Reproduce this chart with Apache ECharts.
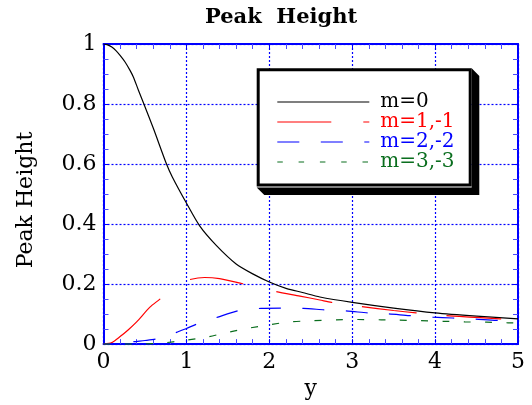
<!DOCTYPE html>
<html>
<head>
<meta charset="utf-8">
<script src="https://cdn.jsdelivr.net/npm/echarts@6/dist/echarts.min.js"></script>
<style>html,body{margin:0;padding:0;background:#fff}#c{width:532px;height:405px}</style>
</head>
<body>
<div id="c"></div>
<script>
// ---- data ----
const titleText = 'Peak  Height';
const xAxisName = 'y';
const yAxisName = 'Peak Height';
const seriesNames = ['m=0', 'm=1,-1', 'm=2,-2', 'm=3,-3'];

const m0X = [0, 0.05, 0.1, 0.15, 0.2, 0.26, 0.32, 0.36, 0.42, 0.48, 0.6, 0.76, 0.83, 1.0, 1.16, 1.36, 1.6, 1.8, 2.0, 2.21, 2.4, 2.61, 3.0, 3.5, 4.0, 4.5, 5.0];
const m0Y = [1, 0.997, 0.99, 0.978, 0.962, 0.94, 0.912, 0.89, 0.847, 0.805, 0.72, 0.60, 0.557, 0.47, 0.394, 0.329, 0.267, 0.234, 0.207, 0.185, 0.172, 0.157, 0.139, 0.12, 0.104, 0.093, 0.084];

const m1X = [0, 0.1, 0.2, 0.3, 0.4, 0.56, 0.68, 0.8, 0.9, 1.04, 1.22, 1.4, 1.68, 1.9, 2.08, 2.37, 2.61, 2.75, 3.11, 3.5, 3.77, 4.13, 4.5, 4.78, 5.0];
const m1Y = [0, 0.005, 0.025, 0.048, 0.074, 0.123, 0.15, 0.18, 0.2, 0.215, 0.222, 0.218, 0.201, 0.188, 0.175, 0.16, 0.147, 0.139, 0.125, 0.112, 0.104, 0.095, 0.089, 0.084, 0.081];

const m2X = [0, 0.2, 0.36, 0.5, 0.64, 0.76, 0.88, 1.0, 1.12, 1.38, 1.64, 1.9, 2.15, 2.41, 2.67, 2.95, 3.19, 3.43, 3.69, 3.97, 4.21, 4.46, 4.74, 5.0];
const m2Y = [0, 0.002, 0.008, 0.012, 0.017, 0.026, 0.039, 0.052, 0.066, 0.09, 0.112, 0.119, 0.12, 0.119, 0.114, 0.11, 0.104, 0.101, 0.095, 0.09, 0.087, 0.084, 0.079, 0.077];

const m3X = [0, 0.4, 0.68, 1.0, 1.24, 1.48, 1.75, 2.01, 2.25, 2.53, 2.81, 3.07, 3.35, 3.57, 3.83, 4.1, 4.36, 4.62, 4.88, 5.0];
const m3Y = [0, 0.0, 0.003, 0.013, 0.023, 0.038, 0.053, 0.065, 0.074, 0.078, 0.081, 0.082, 0.081, 0.08, 0.078, 0.076, 0.074, 0.073, 0.071, 0.07];

const xTicks = [0, 1, 2, 3, 4, 5];
const yTicks = [0, 0.2, 0.4, 0.6, 0.8, 1];

// ---- chart ----
const pair = (xs, ys) => xs.map((x, i) => [x, ys[i]]);
const serif = 'DejaVu Serif';
const blue = '#0000ff';
const minorBlue = '#4a4aff';
const colors = ['#000000', '#ff0000', '#0000ff', '#0a6e1e'];
const seriesDash = ['solid', [74, 36, 54, 34, 57, 30, 55, 30, 55, 30, 55, 30], [22, 21.5], [7, 14.3]];
const seriesDashOffset = [0, 0, 13.5, 0];
const legendDash = ['solid', [54, 32], [22, 21.5], [5.5, 15.8]];
const datasets = [pair(m0X, m0Y), pair(m1X, m1Y), pair(m2X, m2Y), pair(m3X, m3Y)];

function makeAxis(opts) {
  const base = {
    type: 'value',
    axisLine: { show: true, onZero: false, lineStyle: { color: blue, width: 2 } },
    axisTick: { show: true, inside: true, length: 5, lineStyle: { color: blue, width: 1 } },
    minorSplitLine: { show: false },
    splitLine: { show: false },
    axisLabel: { show: false }
  };
  return Object.assign(base, opts);
}
const gridLine = { show: true, lineStyle: { color: blue, width: 1.2, type: [2, 2] } };
const labelStyle = { show: true, color: '#000', fontFamily: serif, fontSize: 22, margin: 7 };
const nameStyle = { fontFamily: serif, fontSize: 22, color: '#000' };

const chart = echarts.init(document.getElementById('c'), null, { renderer: 'canvas' });
chart.setOption({
  backgroundColor: '#fff',
  animation: false,
  title: {
    text: titleText, left: 200, top: 2,
    textStyle: { fontFamily: serif, fontWeight: 'bold', fontSize: 21, color: '#000' }
  },
  grid: { left: 103.5, right: 14, top: 44, bottom: 55, containLabel: false },
  xAxis: [
    makeAxis({
      min: xTicks[0], max: xTicks[xTicks.length - 1], interval: 1, position: 'bottom',
      minorTick: { show: true, splitNumber: 5, length: 5, lineStyle: { color: minorBlue, width: 1 } },
      splitLine: gridLine,
      axisLabel: labelStyle,
      name: xAxisName, nameLocation: 'middle', nameGap: 30, nameTextStyle: nameStyle
    }),
    makeAxis({
      min: xTicks[0], max: xTicks[xTicks.length - 1], interval: 1, position: 'top',
      minorTick: { show: true, splitNumber: 5, length: 5, lineStyle: { color: minorBlue, width: 1 } }
    })
  ],
  yAxis: [
    makeAxis({
      min: yTicks[0], max: yTicks[yTicks.length - 1], interval: 0.2, position: 'left',
      minorTick: { show: true, splitNumber: 4, length: 5, lineStyle: { color: minorBlue, width: 1 } },
      splitLine: gridLine,
      axisLabel: labelStyle,
      name: yAxisName, nameLocation: 'middle', nameGap: 66, nameRotate: 90,
      nameTextStyle: Object.assign({ padding: [0, 12, 0, 0] }, nameStyle)
    }),
    makeAxis({
      min: yTicks[0], max: yTicks[yTicks.length - 1], interval: 0.2, position: 'right',
      minorTick: { show: true, splitNumber: 4, length: 5, lineStyle: { color: minorBlue, width: 1 } }
    })
  ],
  graphic: [
    { type: 'polygon', z: 10, silent: true,
      shape: { points: [[471.7, 68.3], [479.3, 75.9], [479.3, 195], [264.3, 195], [256.7, 187.4], [471.7, 187.4]] },
      style: { fill: '#000' } },
    { type: 'rect', z: 11, silent: true,
      shape: { x: 258.2, y: 69.8, width: 212, height: 115.2 },
      style: { fill: '#fff', stroke: '#000', lineWidth: 3 } }
  ],
  legend: {
    z: 20,
    orient: 'vertical', left: 276.7, top: 92, padding: 0,
    itemWidth: 92, itemHeight: 12, itemGap: 0,
    itemStyle: { opacity: 0 },
    textStyle: { fontFamily: serif, fontSize: 20, lineHeight: 19.3, padding: [0, 0, 0, 6] },
    data: seriesNames.map((n, i) => ({
      name: n,
      textStyle: { color: colors[i] },
      itemStyle: { opacity: 0 },
      lineStyle: { color: colors[i], width: 1.2, type: legendDash[i], dashOffset: 0 }
    }))
  },
  series: seriesNames.map((n, i) => ({
    name: n, type: 'line', xAxisIndex: 0, yAxisIndex: 0,
    data: datasets[i], showSymbol: false, symbol: 'none', smooth: 0.25,
    lineStyle: { color: colors[i], width: 1.2, type: seriesDash[i], dashOffset: seriesDashOffset[i] },
    itemStyle: { color: colors[i] },
    z: 2
  }))
});
</script>
</body>
</html>
